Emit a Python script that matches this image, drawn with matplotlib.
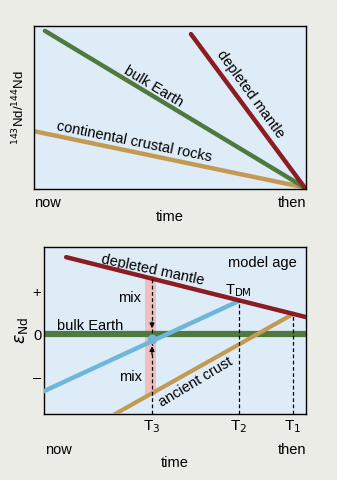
import matplotlib
matplotlib.use("Agg")
import matplotlib.pyplot as plt

# colours
fig_bg = "#ecece6"
ax_bg = "#deecf8"
c_green = "#4f7a3f"
c_red = "#8a1c22"
c_tan = "#c39a52"
c_blue = "#6fb6db"
c_pink = "#efbfbf"

# --- upper panel: 143Nd/144Nd against time (x 0..10 = now..then) ---
bulk_x = [0.40, 9.95]
bulk_y = [9.70, 0.10]
dm_x = [5.77, 9.95]
dm_y = [9.50, 0.10]
crust_x = [0.0, 9.95]
crust_y = [3.55, 0.10]

# --- lower panel: epsilon Nd against time ---
dm2_x = [0.84, 10.0]
dm2_y = [1.81, 0.40]
earth2_y = 0.0
blue_x = [0.0, 7.44]
blue_y = [-1.34, 0.78]
anc_x = [2.71, 9.50]
anc_y = [-1.88, 0.47]
ages = [4.12, 7.44, 9.50]
age_labels = ["T$_3$", "T$_2$", "T$_1$"]
ytick_pos = [1, 0, -1]
ytick_labels = ["+", "0", "\u2013"]

fs = 10.5


def line_at(xs, ys, x):
    return ys[0] + (x - xs[0]) * (ys[1] - ys[0]) / (xs[1] - xs[0])


plt.rcParams["font.family"] = ["Liberation Sans", "DejaVu Sans"]
fig = plt.figure(figsize=(3.37, 4.80), dpi=100, facecolor=fig_bg)

# upper panel
ax1 = fig.add_axes([0.101, 0.606, 0.807, 0.340])
ax1.set_facecolor(ax_bg)
ax1.set_xlim(0, 10)
ax1.set_ylim(0, 10)
ax1.plot(crust_x, crust_y, color=c_tan, lw=3.2, solid_capstyle="round")
ax1.plot(bulk_x, bulk_y, color=c_green, lw=3.2, solid_capstyle="round")
ax1.plot(dm_x, dm_y, color=c_red, lw=3.2, solid_capstyle="round")
ax1.set_xticks([])
ax1.set_yticks([])
ax1.text(4.4, 6.3, "bulk Earth", rotation=-31, fontsize=fs,
         ha="center", va="center")
ax1.text(7.95, 5.8, "depleted mantle", rotation=-54, fontsize=fs,
         ha="center", va="center")
ax1.text(3.7, 2.9, "continental crustal rocks", rotation=-11.5, fontsize=fs,
         ha="center", va="center")
ax1.text(0.0, -0.45, "now", fontsize=fs, ha="left", va="top")
ax1.text(10.0, -0.45, "then", fontsize=fs, ha="right", va="top")
ax1.text(5.0, -1.3, "time", fontsize=fs, ha="center", va="top")
ax1.set_ylabel("$^{143}$Nd/$^{144}$Nd", fontsize=9.5)
ax1.yaxis.set_label_coords(-0.025, 0.5)

# lower panel
ax2 = fig.add_axes([0.131, 0.1375, 0.777, 0.348])
ax2.set_facecolor(ax_bg)
ax2.set_xlim(0, 10)
ax2.set_ylim(-1.88, 2.05)

t3 = ages[0]
top3 = line_at(dm2_x, dm2_y, t3)
bot3 = line_at(anc_x, anc_y, t3)
ax2.fill_between([t3 - 0.27, t3 + 0.15], bot3 - 0.05, top3 + 0.05,
                 color=c_pink, lw=0, zorder=1)

ax2.axhline(earth2_y, color=c_green, lw=4.5, zorder=2)
ax2.plot(blue_x, blue_y, color=c_blue, lw=3.2, zorder=3)
ax2.plot(anc_x, anc_y, color=c_tan, lw=3.0, zorder=3)
ax2.plot(dm2_x, dm2_y, color=c_red, lw=3.2, zorder=4, solid_capstyle="round")

# dashed drop lines to the age axis
ax2.plot([t3, t3], [-1.88, top3], color="black", lw=0.9, ls=(0, (3, 2)), zorder=5)
for a, src in zip(ages[1:], [(blue_x, blue_y), (anc_x, anc_y)]):
    ax2.plot([a, a], [-1.88, line_at(src[0], src[1], a)], color="black",
             lw=0.9, ls=(0, (3, 2)), zorder=5)

# mixing arrows and mixed value
ax2.annotate("", xy=(t3, 0.07), xytext=(t3, 0.35),
             arrowprops=dict(arrowstyle="-|>", color="black", lw=0.9,
                             mutation_scale=7), zorder=6)
ax2.annotate("", xy=(t3, -0.22), xytext=(t3, -0.55),
             arrowprops=dict(arrowstyle="-|>", color="black", lw=0.9,
                             mutation_scale=7), zorder=6)
ax2.plot([t3], [line_at(blue_x, blue_y, t3) + 0.05], "o", color=c_blue,
         ms=6, zorder=5)

ax2.text(4.15, 1.5, "depleted mantle", rotation=-12, fontsize=fs,
         ha="center", va="center")
ax2.text(8.35, 1.68, "model age", fontsize=fs, ha="center", va="center")
ax2.text(7.4, 1.02, "T$_{\\rm DM}$", fontsize=fs, ha="center", va="center")
ax2.text(3.25, 0.86, "mix", fontsize=fs, ha="center", va="center")
ax2.text(3.3, -1.0, "mix", fontsize=fs, ha="center", va="center")
ax2.text(1.75, 0.18, "bulk Earth", fontsize=fs, ha="center", va="center")
ax2.text(5.8, -1.13, "ancient crust", rotation=31, fontsize=fs,
         ha="center", va="center")

ax2.set_xticks(ages)
ax2.set_xticklabels(age_labels, fontsize=11)
ax2.tick_params(axis="x", length=0, pad=3)
ax2.set_yticks(ytick_pos)
ax2.set_yticklabels(ytick_labels, fontsize=10.5)
ax2.tick_params(axis="y", length=0, pad=2)
ax2.text(0.04, -2.73, "now", fontsize=fs, ha="left", va="center")
ax2.text(10.0, -2.73, "then", fontsize=fs, ha="right", va="center")
ax2.text(5.0, -3.03, "time", fontsize=fs, ha="center", va="center")
ax2.set_ylabel("$\\varepsilon_{\\rm Nd}$", fontsize=12.5)
ax2.yaxis.set_label_coords(-0.055, 0.5)

for ax in (ax1, ax2):
    for s in ax.spines.values():
        s.set_linewidth(1.0)

fig.savefig("out.png", dpi=100, facecolor=fig_bg)
